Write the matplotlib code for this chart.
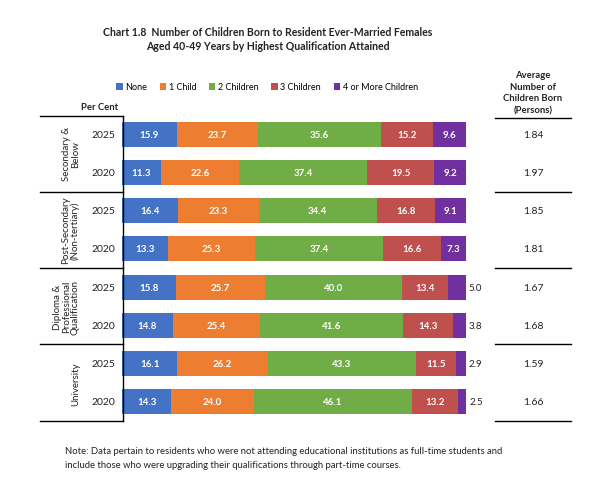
import matplotlib.pyplot as plt
import matplotlib.transforms as mtransforms
from matplotlib.lines import Line2D
import numpy as np

plt.rcParams['font.family'] = ['Lato', 'DejaVu Sans']

# data
groups = ['Secondary &\nBelow', 'Post-Secondary\n(Non-tertiary)',
          'Diploma &\nProfessional\nQualification', 'University']
years = ['2025', '2020']
series = ['None', '1 Child', '2 Children', '3 Children', '4 or More Children']
colors = ['#4472C4', '#ED7D31', '#70AD47', '#C0504D', '#7030A0']

none_pct = [15.9, 11.3, 16.4, 13.3, 15.8, 14.8, 16.1, 14.3]
one_pct = [23.7, 22.6, 23.3, 25.3, 25.7, 25.4, 26.2, 24.0]
two_pct = [35.6, 37.4, 34.4, 37.4, 40.0, 41.6, 43.3, 46.1]
three_pct = [15.2, 19.5, 16.8, 16.6, 13.4, 14.3, 11.5, 13.2]
four_pct = [9.6, 9.2, 9.1, 7.3, 5.0, 3.8, 2.9, 2.5]
avg_children = [1.84, 1.97, 1.85, 1.81, 1.67, 1.68, 1.59, 1.66]

W, H = 597, 489
fig = plt.figure(figsize=(W / 100, H / 100), dpi=100)
fig.patch.set_facecolor('white')

def fx(px):
    return px / W

def fy(py):
    return 1 - py / H

ax = fig.add_axes([fx(122), fy(422), fx(466) - fx(122), fy(116) - fy(422)])
ax.axis('off')

values = [none_pct, one_pct, two_pct, three_pct, four_pct]
nrow = len(none_pct)
ypos = np.arange(nrow)
left = np.zeros(nrow)
handles = []
for k, (vals, col, name) in enumerate(zip(values, colors, series)):
    vals = np.array(vals)
    b = ax.barh(ypos, vals, left=left, height=0.66, color=col, label=name)
    handles.append(b)
    for i in range(nrow):
        v = vals[i]
        if k == 4 and v <= 5.0:
            ax.text(left[i] + v + 0.8, ypos[i], f'{v:.1f}', ha='left', va='center',
                    fontsize=7, color='#222222')
        else:
            ax.text(left[i] + v / 2, ypos[i], f'{v:.1f}', ha='center', va='center',
                    fontsize=7, color='white', fontweight='bold')
    left = left + vals

ax.set_xlim(0, 100)
ax.set_ylim(nrow - 0.5, -0.5)

# left labels (x in figure coords, y in data coords)
trans = mtransforms.blended_transform_factory(fig.transFigure, ax.transData)
for i in range(nrow):
    ax.text(fx(103), ypos[i], years[i % 2], transform=trans, ha='center',
            va='center', fontsize=7.5, color='#222222')
    ax.text(fx(533), ypos[i], f'{avg_children[i]:.2f}', transform=trans,
            ha='center', va='center', fontsize=7.5, color='#222222')
for g, name in enumerate(groups):
    ax.text(fx(80), 2 * g + 0.5, name, transform=trans, rotation=90,
            ha='right', va='center', fontsize=7, color='#222222',
            multialignment='center', linespacing=1.0)

# frame lines on the left and the right table rules
for py in [117, 193, 269, 345, 422]:
    fig.add_artist(Line2D([fx(40), fx(123)], [fy(py), fy(py)], color='black', lw=1))
for py in [119, 193, 269, 345, 422]:
    fig.add_artist(Line2D([fx(495), fx(571)], [fy(py), fy(py)], color='black', lw=1))
fig.add_artist(Line2D([fx(123), fx(123)], [fy(117), fy(422)], color='black', lw=1))

fig.text(fx(268), fy(32), 'Chart 1.8  Number of Children Born to Resident Ever-Married Females',
         ha='center', va='center', fontsize=7.6, fontweight='bold', color='#222222')
fig.text(fx(268), fy(47), 'Aged 40-49 Years by Highest Qualification Attained',
         ha='center', va='center', fontsize=7.6, fontweight='bold', color='#222222')

fig.text(fx(100), fy(107), 'Per Cent', ha='center', va='center', fontsize=6.8,
         fontweight='bold', color='#222222')
fig.text(fx(533), fy(93), 'Average\nNumber of\nChildren Born\n(Persons)', ha='center',
         va='center', fontsize=6.8, fontweight='bold', color='#222222', linespacing=1.4)

fig.legend(handles=handles, labels=series, ncol=5, frameon=False,
           loc='center', bbox_to_anchor=(fx(267), fy(88)), fontsize=6.5,
           handlelength=0.7, handleheight=0.7, handletextpad=0.3, columnspacing=1.4)

fig.text(fx(65), fy(452), 'Note: Data pertain to residents who were not attending educational '
         'institutions as full-time students and', ha='left', va='center', fontsize=6.8,
         color='#222222')
fig.text(fx(65), fy(466), 'include those who were upgrading their qualifications through '
         'part-time courses.', ha='left', va='center', fontsize=6.8, color='#222222')

fig.savefig('out.png', dpi=100, facecolor='white')
